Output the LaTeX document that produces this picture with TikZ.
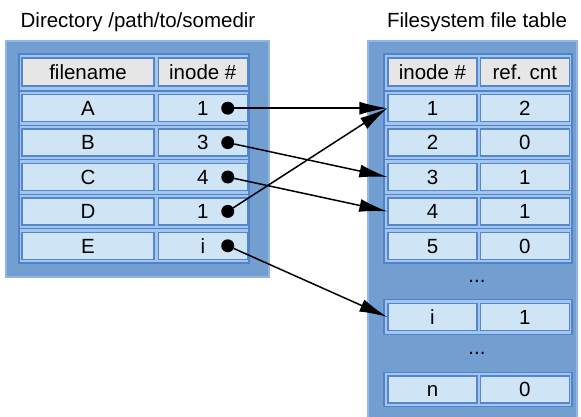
\documentclass[tikz,border=0pt]{standalone}
\usepackage{fontspec}
\setmainfont{Liberation Sans}
\usepackage{tikz}
\usetikzlibrary{arrows.meta,positioning}

\definecolor{panelblue}{HTML}{729FCF}
\definecolor{paneledge}{HTML}{8FB6E6}
\definecolor{framefill}{HTML}{A2C6EF}
\definecolor{frameline}{HTML}{4F83CC}
\definecolor{cellfill}{HTML}{CFE4F4}
\definecolor{cellline}{HTML}{5585CB}
\definecolor{headfill}{HTML}{E6E6E6}

\begin{document}
\begin{tikzpicture}[
    x=1pt, y=-1pt,
    >=Latex,
    panel/.style={
        draw=paneledge, fill=panelblue, line width=1.5pt
    },
    rowframe/.style={
        rectangle, draw=frameline, fill=framefill, line width=1.3pt,
        minimum width=#1, minimum height=34.4pt, inner sep=0pt
    },
    cell/.style={
        rectangle, draw=cellline, fill=cellfill, line width=1.3pt,
        minimum width=#1, minimum height=27pt, inner sep=0pt,
        text height=14.7pt, text depth=0pt,
        font=\fontsize{20.5}{24}\selectfont
    },
    cell/.default=89pt,
    headcell/.style={cell=#1, fill=headfill, minimum height=28pt},
    headcell/.default=89pt,
    dot/.style={
        circle, fill=black, minimum size=13pt, inner sep=0pt
    },
    title/.style={
        anchor=base, inner sep=0pt, font=\fontsize{20.5}{24}\selectfont
    },
    gap/.style={
        inner sep=0pt, font=\fontsize{20.5}{24}\selectfont
    },
    link/.style={
        -{Latex[length=28pt, width=13pt]}, line width=1.5pt
    },
]

\clip (0,0) rectangle (581,417);

% ── Directory ──
\node[title] (dirtitle) at (138,28) {Directory /path/to/somedir};
\path[panel] (6,41) rectangle (269,277);

\node[rowframe=230pt, minimum height=37pt] (dhead) at (134,72.5) {};
\node[rowframe=230pt] (drowA) at (134,108.2) {};
\node[rowframe=230pt] (drowB) at (134,142.6) {};
\node[rowframe=230pt] (drowC) at (134,177) {};
\node[rowframe=230pt] (drowD) at (134,211.4) {};
\node[rowframe=230pt] (drowE) at (134,245.8) {};

\node[headcell=132pt] (dname) at (88,72) {filename};
\node[headcell, right=3pt of dname] (dinode) {inode \#};

\node[cell=132pt] (nameA) at (88,108.2) {A};
\node[cell, right=3pt of nameA] (inoA) {1};
\node[cell=132pt] (nameB) at (88,142.6) {B};
\node[cell, right=3pt of nameB] (inoB) {3};
\node[cell=132pt] (nameC) at (88,177) {C};
\node[cell, right=3pt of nameC] (inoC) {4};
\node[cell=132pt] (nameD) at (88,211.4) {D};
\node[cell, right=3pt of nameD] (inoD) {1};
\node[cell=132pt] (nameE) at (88,245.8) {E};
\node[cell, right=3pt of nameE] (inoE) {i};

\node[dot, left=13.5pt of inoA.east] (dotA) {};
\node[dot, left=13.5pt of inoB.east] (dotB) {};
\node[dot, left=13.5pt of inoC.east] (dotC) {};
\node[dot, left=13.5pt of inoD.east] (dotD) {};
\node[dot, left=13.5pt of inoE.east] (dotE) {};

% ── File table ──
\node[title] (tabtitle) at (477,27.5) {Filesystem file table};
\path[panel] (368,41) rectangle (577,430);

\node[rowframe=188pt, minimum height=37pt] (thead) at (478,72.5) {};
\node[rowframe=188pt] (trow1) at (478,108.2) {};
\node[rowframe=188pt] (trow2) at (478,142.6) {};
\node[rowframe=188pt] (trow3) at (478,177) {};
\node[rowframe=188pt] (trow4) at (478,211.4) {};
\node[rowframe=188pt] (trow5) at (478,245.8) {};
\node[rowframe=188pt] (trowi) at (478,317) {};
\node[rowframe=188pt] (trown) at (478,389.5) {};

\node[headcell] (tinode) at (432.5,72) {inode \#};
\node[headcell, right=2pt of tinode] (tcount) {ref. cnt};

\node[cell] (ent1) at (432.5,108.2) {1};
\node[cell, right=2pt of ent1] (cnt1) {2};
\node[cell] (ent2) at (432.5,142.6) {2};
\node[cell, right=2pt of ent2] (cnt2) {0};
\node[cell] (ent3) at (432.5,177) {3};
\node[cell, right=2pt of ent3] (cnt3) {1};
\node[cell] (ent4) at (432.5,211.4) {4};
\node[cell, right=2pt of ent4] (cnt4) {1};
\node[cell] (ent5) at (432.5,245.8) {5};
\node[cell, right=2pt of ent5] (cnt5) {0};
\node[cell] (enti) at (432.5,317) {i};
\node[cell, right=2pt of enti] (cnti) {1};
\node[cell] (entn) at (432.5,389.5) {n};
\node[cell, right=2pt of entn] (cntn) {0};

\node[gap] (skip1) at (477,281) {...};
\node[gap] (skip2) at (477,353) {...};

% ── Links ──
\draw[link] (dotA) -- (ent1.west);
\draw[link] (dotB) -- (ent3.west);
\draw[link] (dotC) -- (ent4.west);
\draw[link] (dotD) -- (ent1.west);
\draw[link] (dotE) -- (enti.west);

\end{tikzpicture}
\end{document}
